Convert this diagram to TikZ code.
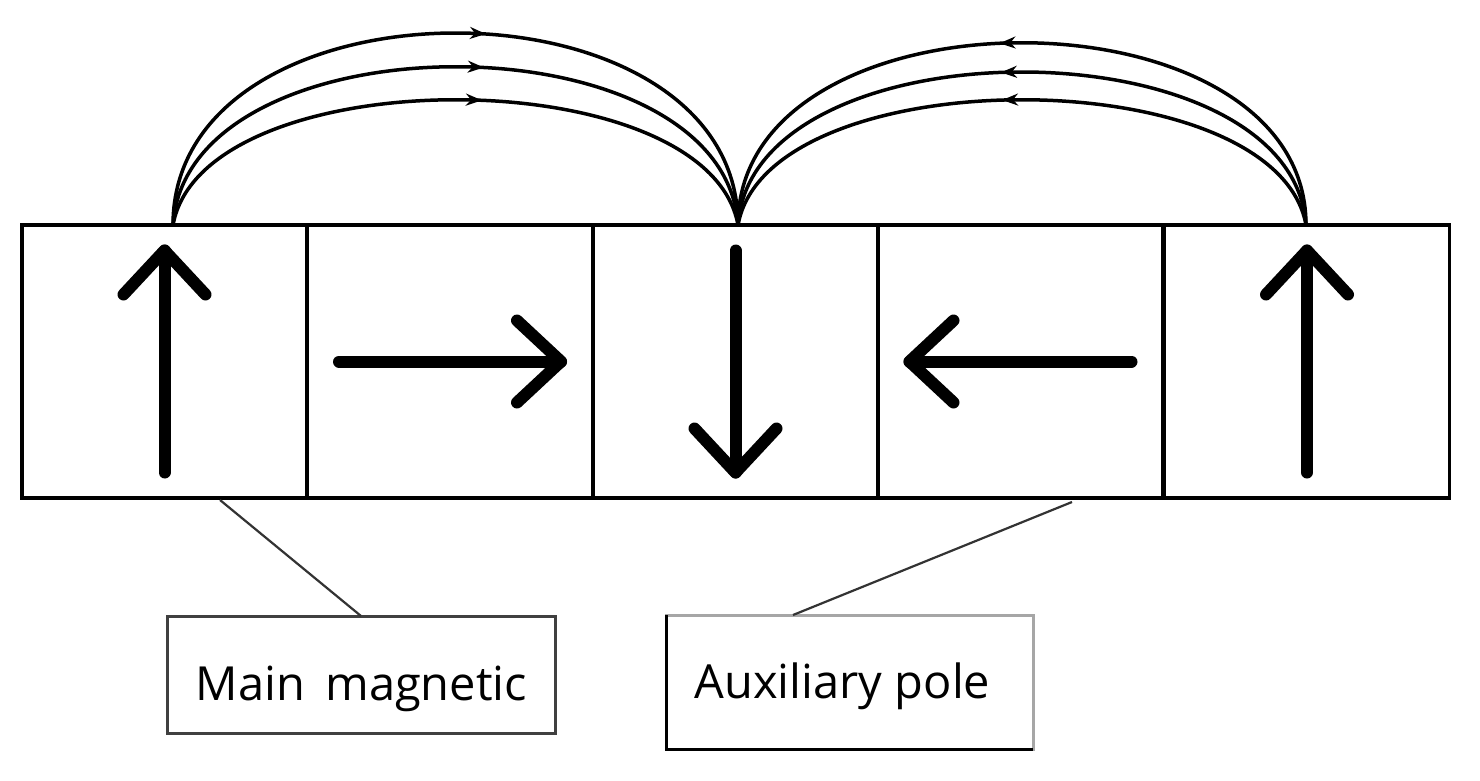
\documentclass[tikz,border=0pt]{standalone}
\usepackage{fontspec}
\setmainfont{Open Sans}
\usetikzlibrary{arrows.meta,decorations.markings,calc}
\tikzset{
  cell/.style={draw=black,line width=3.5pt,minimum width=285pt,minimum height=273pt,inner sep=0pt,outer sep=0pt},
  marrow/.style={line width=12pt,line cap=round,line join=round},
  fieldline/.style={line width=3.5pt,postaction={decorate}},
  fwd/.style={decoration={markings,mark=at position #1 with {\arrow{Stealth[length=16pt,width=12pt]}}}},
  bwd/.style={decoration={markings,mark=at position #1 with {\arrowreversed{Stealth[length=16pt,width=12pt]}}}},
  lbox/.style={draw=#1,line width=3pt,inner sep=0pt,outer sep=0pt},
  ltext/.style={font=\fontsize{47}{50}\selectfont,inner sep=0pt,anchor=base},
  leader/.style={draw=black!80,line width=2.2pt},
  magarrow/.pic={
    \draw[marrow] (0,111) -- (0,-111);
    \draw[marrow] (-41,-67) -- (0,-111) -- (41,-67);
  }
}
\begin{document}
\begin{tikzpicture}[x=1pt,y=-1pt]
\useasboundingbox[fill=white] (0,0) rectangle (1480,780);
% cells
\node[cell] (c1) at (164.5,361.5) {};
\node[cell] (c2) at (450,361.5) {};
\node[cell] (c3) at (735.5,361.5) {};
\node[cell] (c4) at (1020.5,361.5) {};
\node[cell] (c5) at (1307,361.5) {};
% magnetisation arrows
\pic at (c1.center) {magarrow};
\pic[rotate=-90] at (c2.center) {magarrow};
\pic[rotate=180] at (c3.center) {magarrow};
\pic[rotate=90] at (c4.center) {magarrow};
\pic at (c5.center) {magarrow};
% field lines
\coordinate (pA) at (173,225);
\coordinate (pB) at (738,225);
\coordinate (pC) at (1306,225);
\draw[fieldline,fwd=0.54] (pA) .. controls ($(pA)+(0,-256)$) and ($(pB)+(0,-256)$) .. (pB);
\draw[fieldline,fwd=0.54] (pA) .. controls ($(pA)+(14,-211)$) and ($(pB)+(-14,-211)$) .. (pB);
\draw[fieldline,fwd=0.54] (pA) .. controls ($(pA)+(30,-167)$) and ($(pB)+(-30,-167)$) .. (pB);
\draw[fieldline,bwd=0.47] (pB) .. controls ($(pB)+(0,-243)$) and ($(pC)+(0,-243)$) .. (pC);
\draw[fieldline,bwd=0.47] (pB) .. controls ($(pB)+(14,-204)$) and ($(pC)+(-14,-204)$) .. (pC);
\draw[fieldline,bwd=0.47] (pB) .. controls ($(pB)+(30,-167)$) and ($(pC)+(-30,-167)$) .. (pC);
% label boxes
\node[lbox=black!75,minimum width=388pt,minimum height=117pt] (mainbox) at (361,674.5) {};
\node[ltext] (maintext) at (361.5,700) {Main\, magnetic};
\node[lbox=black!35,minimum width=367pt,minimum height=134pt] (auxbox) at (849.5,682) {};
\draw[line width=3pt] (auxbox.north west) -- (auxbox.south west) -- (auxbox.south east);
\node[ltext] (auxtext) at (842.5,698) {Auxiliary pole};
% leaders
\coordinate (mlead) at (220,500);
\coordinate (alead) at (1072,502);
\draw[leader] (mlead) -- (mainbox.north);
\draw[leader] (alead) -- ([xshift=127pt]auxbox.north west);
\end{tikzpicture}
\end{document}
